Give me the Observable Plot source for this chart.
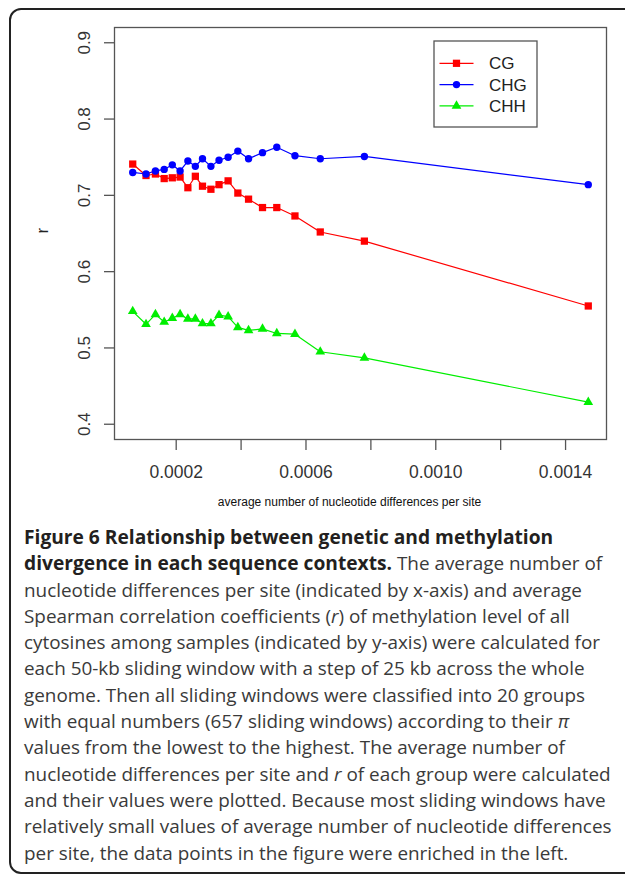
<!DOCTYPE html>
<html><head><meta charset="utf-8">
<script src="https://cdn.jsdelivr.net/npm/d3@7"></script>
<script src="https://cdn.jsdelivr.net/npm/@observablehq/plot@0.6"></script>
<style>
html,body{margin:0;padding:0;background:#fff;}
body{width:625px;height:875px;overflow:hidden;position:relative;font-family:"Liberation Sans",Arial,sans-serif;}
#border{position:absolute;left:9px;top:8px;width:700px;height:866px;border:2px solid #222;border-radius:12px;box-sizing:border-box;}
#chart{position:absolute;left:0;top:0;}
#legend{position:absolute;left:0;top:0;}
#caption{position:absolute;left:24px;top:524px;font-family:"Open Sans",sans-serif;font-size:18.9px;line-height:26.3px;color:#3a3a3a;white-space:nowrap;}
#caption b{color:#231f20;font-weight:700;font-size:19.2px}
</style></head><body>
<div id="border"></div>
<div id="chart"></div>
<svg id="legend" width="625" height="520"></svg>
<div id="caption"></div>
<script>
// ---- data ----
const pi = [0.000066, 0.000107, 0.000136, 0.000163, 0.000188, 0.000212, 0.000236, 0.000259, 0.000281, 0.000307,
            0.000332, 0.000360, 0.000390, 0.000423, 0.000466, 0.000510, 0.000566, 0.000644, 0.000780, 0.001470];
const rCG  = [0.741, 0.726, 0.728, 0.722, 0.723, 0.724, 0.710, 0.725, 0.712, 0.708,
              0.714, 0.719, 0.703, 0.695, 0.684, 0.684, 0.673, 0.652, 0.640, 0.555];
const rCHG = [0.730, 0.728, 0.732, 0.734, 0.740, 0.732, 0.745, 0.738, 0.748, 0.738,
              0.746, 0.750, 0.758, 0.748, 0.756, 0.763, 0.752, 0.748, 0.751, 0.714];
const rCHH = [0.548, 0.531, 0.544, 0.534, 0.539, 0.544, 0.538, 0.538, 0.532, 0.532,
              0.543, 0.541, 0.527, 0.523, 0.525, 0.519, 0.518, 0.495, 0.487, 0.429];
const series = ["CG", "CHG", "CHH"];
const seriesValues = [rCG, rCHG, rCHH];
const colors = ["#ff0000", "#0000ff", "#00ee00"];
const symbols = ["square", "circle", "triangle"];
const xTicks = [0.0002, 0.0004, 0.0006, 0.0008, 0.0010, 0.0012, 0.0014];
const xTickLabels = [0.0002, 0.0006, 0.0010, 0.0014];
const yTicks = [0.4, 0.5, 0.6, 0.7, 0.8, 0.9];
const yLimits = [0.4, 0.9];
const xLabel = "average number of nucleotide differences per site";
const yLabel = "r";

// ---- table ----
const rows = [];
series.forEach((s, i) => pi.forEach((x, j) => rows.push({series: s, x, r: seriesValues[i][j]})));

// R-style 4% axis expansion
const xr = d3.extent(pi), xs = xr[1] - xr[0];
const ys = yLimits[1] - yLimits[0];

const fmtX = d3.format(".4f");
const plot = Plot.plot({
  width: 625, height: 520,
  marginLeft: 114, marginRight: 19, marginTop: 27, marginBottom: 81,
  style: {fontFamily: '"Liberation Sans", Arial, sans-serif', fontSize: "17px", color: "#333", background: "transparent"},
  x: {domain: [xr[0] - 0.04 * xs, xr[1] + 0.04 * xs]},
  y: {domain: [yLimits[0] - 0.04 * ys, yLimits[1] + 0.04 * ys]},
  color: {domain: series, range: colors},
  symbol: {domain: series, range: symbols},
  marks: [
    Plot.frame({stroke: "#555", strokeWidth: 1.3}),
    Plot.axisX({ticks: xTicks, tickSize: 11, tickPadding: 15, stroke: "#555", strokeWidth: 1.3, fontSize: 17.5,
      tickFormat: d => xTickLabels.some(v => Math.abs(v - d) < 1e-9) ? fmtX(d) : "", label: null, fill: "#333"}),
    Plot.axisY({ticks: yTicks, tickSize: 10, tickPadding: 15, tickRotate: -90, stroke: "#555", strokeWidth: 1.3, fontSize: 17,
      tickFormat: d3.format(".1f"), label: null, fill: "#333"}),
    Plot.text([xLabel], {frameAnchor: "bottom", dy: 66, dx: -11, fontSize: 12, fill: "#111"}),
    Plot.text([yLabel], {frameAnchor: "left", dx: -72, rotate: -90, fontSize: 17, fill: "#222"}),
    Plot.line(rows, {x: "x", y: "r", z: "series", stroke: "series", strokeWidth: 1.2}),
    Plot.dot(rows.filter(d => d.series === "CG"), {x: "x", y: "r", symbol: "series", fill: "series", r: 4.1}),
    Plot.dot(rows.filter(d => d.series === "CHG"), {x: "x", y: "r", symbol: "series", fill: "series", r: 3.7}),
    Plot.dot(rows.filter(d => d.series === "CHH"), {x: "x", y: "r", symbol: "series", fill: "series", r: 3.6})
  ]
});
document.getElementById("chart").appendChild(plot);

// ---- legend (inside the plot box, top right) ----
const lg = d3.select("#legend");
const L = {x0: 434, y0: 41, w: 103, h: 86, row0: 63.3, step: 21.3, lx0: 439.5, lx1: 473.5, tx: 489};
lg.append("rect").attr("x", L.x0).attr("y", L.y0).attr("width", L.w).attr("height", L.h)
  .attr("fill", "none").attr("stroke", "#555").attr("stroke-width", 1.3);
const symSize = [4.1, 3.7, 3.6];
const symTypes = [d3.symbolSquare, d3.symbolCircle, d3.symbolTriangle];
series.forEach((s, i) => {
  const y = L.row0 + i * L.step;
  lg.append("line").attr("x1", L.lx0).attr("x2", L.lx1).attr("y1", y).attr("y2", y)
    .attr("stroke", colors[i]).attr("stroke-width", 1.2);
  lg.append("path").attr("d", d3.symbol(symTypes[i], Math.PI * symSize[i] ** 2)())
    .attr("transform", `translate(${(L.lx0 + L.lx1) / 2},${y})`).attr("fill", colors[i]);
  lg.append("text").attr("x", L.tx).attr("y", y).attr("dy", "0.36em").text(s)
    .attr("font-family", '"Liberation Sans", Arial, sans-serif').attr("font-size", 17).attr("fill", "#222");
});

// ---- caption ----
const captionLines = [
  "<b>Figure 6 Relationship between genetic and methylation</b>",
  "<b>divergence in each sequence contexts.</b> The average number of",
  "nucleotide differences per site (indicated by x-axis) and average",
  "Spearman correlation coefficients (<i>r</i>) of methylation level of all",
  "cytosines among samples (indicated by y-axis) were calculated for",
  "each 50-kb sliding window with a step of 25 kb across the whole",
  "genome. Then all sliding windows were classified into 20 groups",
  "with equal numbers (657 sliding windows) according to their <i>π</i>",
  "values from the lowest to the highest. The average number of",
  "nucleotide differences per site and <i>r</i> of each group were calculated",
  "and their values were plotted. Because most sliding windows have",
  "relatively small values of average number of nucleotide differences",
  "per site, the data points in the figure were enriched in the left."
];
document.getElementById("caption").innerHTML = captionLines.map(l => `<div>${l}</div>`).join("");
</script>
</body></html>
